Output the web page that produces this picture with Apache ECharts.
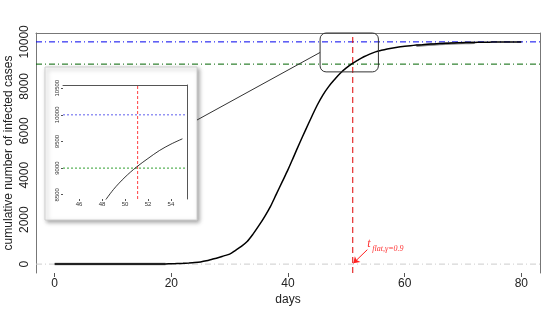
<!DOCTYPE html>
<html><head><meta charset="utf-8">
<script src="https://cdn.jsdelivr.net/npm/echarts@6/dist/echarts.min.js"></script>
<style>html,body{margin:0;padding:0;background:#fff}#c{width:560px;height:315px}</style>
</head><body><div id="c"></div>
<script>
const days = [0,1,2,3,4,5,6,7,8,9,10,11,12,13,14,15,16,17,18,19,20,21,22,23,24,25,26,27,28,29,30,31,32,33,34,35,36,37,38,39,40,41,42,43,44,45,46,47,48,49,50,51,52,53,54,55,56,57,58,59,60,61,62,63,64,65,66,67,68,69,70,71,72,73,74,75,76,77,78,79,80];
const cases = [0,0,0,0,0,0,0,0,0,0,0,0,0,0,0,0,0,0,5,10,15,25,35,50,70,100,150,220,290,370,450,620,800,1020,1350,1730,2140,2600,3150,3700,4250,4850,5450,6030,6600,7150,7620,8000,8310,8600,8830,9020,9180,9330,9450,9550,9620,9680,9730,9770,9800,9830,9855,9875,9895,9910,9925,9938,9948,9957,9965,9972,9978,9983,9987,9990,9993,9995,9997,9998,10000];
const obsEarlyDays = [0,1,2,3,4,5,6,7,8,9,10,11,12,13,14,15,16,17,18,19];
const obsEarly = [0,0,0,0,0,0,0,0,0,0,0,0,0,0,0,0,0,0,0,0];
const obsLateDays = [62,63,64,65,66,67,68,69,70,71,72];
const obsLate = [9830,9850,9870,9885,9900,9915,9925,9935,9945,9952,9960];
const xTicks = [0,20,40,60,80];
const yTicks = [0,2000,4000,6000,8000,10000];
const insetXTicks = [46,48,50,52,54];
const insetYTicks = [8500,9000,9500,10000,10500];
const capLevel = 10000, flatLevel = 9000, baseLevel = 0, tFlat = 51.1;
const zoomBox = {x0:45.5, x1:55.5, y0:8650, y1:10400};
const insetFrom = 48, insetTo = 55;
const mainX = [-3.2, 83.2], mainY = [-400, 10400];
const insetX = [44.6, 55.4], insetY = [8420, 10560];

const mainPts = days.map((d,i)=>[d,cases[i]]);
const insetPts = mainPts.filter(p=>p[0]>=insetFrom && p[0]<=insetTo);
const earlyPts = obsEarlyDays.map((d,i)=>[d,obsEarly[i]]);
const latePts = obsLateDays.map((d,i)=>[d,obsLate[i]]);
const plain = v => String(v);

const chart = echarts.init(document.getElementById('c'));
const F = 'Liberation Sans, Arial, sans-serif';
function refLine(pts, color, type, xi, z){
  return {type:'line',xAxisIndex:xi,yAxisIndex:xi,data:pts,z:z,silent:true,showSymbol:false,
    symbol:'none',clip:false,color:color,itemStyle:{color:color},
    lineStyle:{color:color,type:type,width:1},emphasis:{disabled:true}};
}
const hPts = (v, r) => [[r[0], v], [r[1], v]];
const vPts = (v, r) => [[v, r[0]], [v, r[1]]];
chart.setOption({
  animation:false,
  backgroundColor:'#fff',
  grid:[
    {left:36,right:20,top:33,bottom:42,outerBoundsMode:'none',containLabel:false},
    {left:63,top:85,width:124,height:114,outerBoundsMode:'none',containLabel:false}
  ],
  xAxis:[
    {gridIndex:0,type:'value',min:mainX[0],max:mainX[1],position:'bottom',
     axisLine:{show:false,onZero:false},splitLine:{show:false},
     axisTick:{show:true,customValues:xTicks,length:4,lineStyle:{color:'#555'}},
     axisLabel:{customValues:xTicks,formatter:plain,fontSize:12,color:'#222',margin:5,fontFamily:F},
     name:'days',nameLocation:'middle',nameGap:21,nameMoveOverlap:false,nameTextStyle:{fontSize:12,color:'#222',fontFamily:F}},
    {gridIndex:1,type:'value',min:insetX[0],max:insetX[1],position:'bottom',z:5,
     axisLine:{show:false,onZero:false},splitLine:{show:false},
     axisTick:{show:true,customValues:insetXTicks,length:2,lineStyle:{color:'#555'}},
     axisLabel:{customValues:insetXTicks,formatter:plain,fontSize:6,color:'#333',margin:2,fontFamily:F}},
    {gridIndex:0,type:'value',min:mainX[0],max:mainX[1],position:'top',
     axisLine:{show:true,onZero:false,lineStyle:{color:'#777'}},axisTick:{show:false},axisLabel:{show:false},splitLine:{show:false}},
    {gridIndex:1,type:'value',min:insetX[0],max:insetX[1],position:'top',z:5,
     axisLine:{show:true,onZero:false,lineStyle:{color:'#555'}},axisTick:{show:false},axisLabel:{show:false},splitLine:{show:false}}
  ],
  yAxis:[
    {gridIndex:0,type:'value',min:mainY[0],max:mainY[1],position:'left',
     axisLine:{show:true,onZero:false,lineStyle:{color:'#777'}},axisTick:{show:false},splitLine:{show:false},
     axisLabel:{customValues:yTicks,formatter:plain,rotate:90,fontSize:12,color:'#222',margin:5,fontFamily:F},
     name:'cumulative number of infected cases',nameLocation:'middle',nameGap:21,nameMoveOverlap:false,
     nameTextStyle:{fontSize:12,color:'#222',fontFamily:F}},
    {gridIndex:1,type:'value',min:insetY[0],max:insetY[1],position:'left',z:5,
     axisLine:{show:false,onZero:false},splitLine:{show:false},
     axisTick:{show:true,customValues:insetYTicks,length:2,lineStyle:{color:'#555'}},
     axisLabel:{customValues:insetYTicks,formatter:plain,rotate:90,fontSize:6,color:'#333',margin:3,fontFamily:F}},
    {gridIndex:0,type:'value',min:mainY[0],max:mainY[1],position:'right',
     axisLine:{show:true,onZero:false,lineStyle:{color:'#777'}},axisTick:{show:false},axisLabel:{show:false},splitLine:{show:false}},
    {gridIndex:1,type:'value',min:insetY[0],max:insetY[1],position:'right',z:5,
     axisLine:{show:true,onZero:false,lineStyle:{color:'#555'}},axisTick:{show:false},axisLabel:{show:false},splitLine:{show:false}}
  ],
  series:[
    refLine(hPts(baseLevel, mainX),'#cccccc',[6,3,1,3],0,2),
    refLine(hPts(capLevel, mainX),'#0000ee',[6,3,1,3],0,2),
    refLine(hPts(flatLevel, mainX),'#006400',[6,3,1,3],0,2),
    refLine(vPts(tFlat, mainY),'#e00000',[6,4],0,2),
    {type:'line',xAxisIndex:0,yAxisIndex:0,data:earlyPts,showSymbol:false,color:'#888',lineStyle:{color:'#888',width:2.5},z:2},
    {type:'line',xAxisIndex:0,yAxisIndex:0,data:latePts,showSymbol:false,color:'#888',lineStyle:{color:'#888',width:2.5},z:2},
    {type:'line',xAxisIndex:0,yAxisIndex:0,data:mainPts,showSymbol:false,smooth:0.3,color:'#000',lineStyle:{color:'#000',width:1.5},z:3},
    {type:'line',xAxisIndex:0,yAxisIndex:0,data:[],z:3,
     markLine:{silent:true,symbol:['none','arrow'],symbolSize:6,label:{show:false},animation:false,
       lineStyle:{color:'#ff2020',type:'solid',width:1},itemStyle:{color:'#ff2020'},
       data:[[{coord:[53.6,650]},{coord:[51.2,40]}]]}},
    refLine(hPts(capLevel, insetX),'#6060ee',[2,2],1,6),
    refLine(hPts(flatLevel, insetX),'#30a030',[2,2],1,6),
    refLine(vPts(tFlat, insetY),'#ff4040',[3,2],1,6),
    {type:'line',xAxisIndex:1,yAxisIndex:1,data:insetPts,showSymbol:false,smooth:0.3,clip:true,color:'#000',lineStyle:{color:'#000',width:0.8},z:6}
  ]
});

const p0 = chart.convertToPixel({xAxisIndex:0,yAxisIndex:0},[zoomBox.x0,zoomBox.y1]);
const p1 = chart.convertToPixel({xAxisIndex:0,yAxisIndex:0},[zoomBox.x1,zoomBox.y0]);
const midY = (p0[1]+p1[1])/2;
const tPos = chart.convertToPixel({xAxisIndex:0,yAxisIndex:0},[53.6,900]);
chart.setOption({
  graphic:[
    {type:'rect',z:1,shape:{x:45,y:67,width:152,height:153},
     style:{fill:'#fff',stroke:'#d0d0d0',lineWidth:1,shadowBlur:4,shadowOffsetX:2,shadowOffsetY:2,shadowColor:'rgba(0,0,0,0.35)'}},
    {type:'rect',z:10,shape:{x:p0[0],y:p0[1],width:p1[0]-p0[0],height:p1[1]-p0[1],r:6},
     style:{fill:'none',stroke:'#333',lineWidth:1}},
    {type:'line',z:10,shape:{x1:197,y1:120,x2:p0[0],y2:midY},style:{stroke:'#333',lineWidth:1}},
    {type:'text',z:10,x:tPos[0],y:tPos[1],style:{text:'t',font:'italic 12px Liberation Serif, serif',fill:'#ff3030',textVerticalAlign:'middle'}},
    {type:'text',z:10,x:tPos[0]+5,y:tPos[1]+5,style:{text:'flat,γ=0.9',font:'italic 8px Liberation Serif, serif',fill:'#ff3030',textVerticalAlign:'middle'}}
  ]
});
</script></body></html>
